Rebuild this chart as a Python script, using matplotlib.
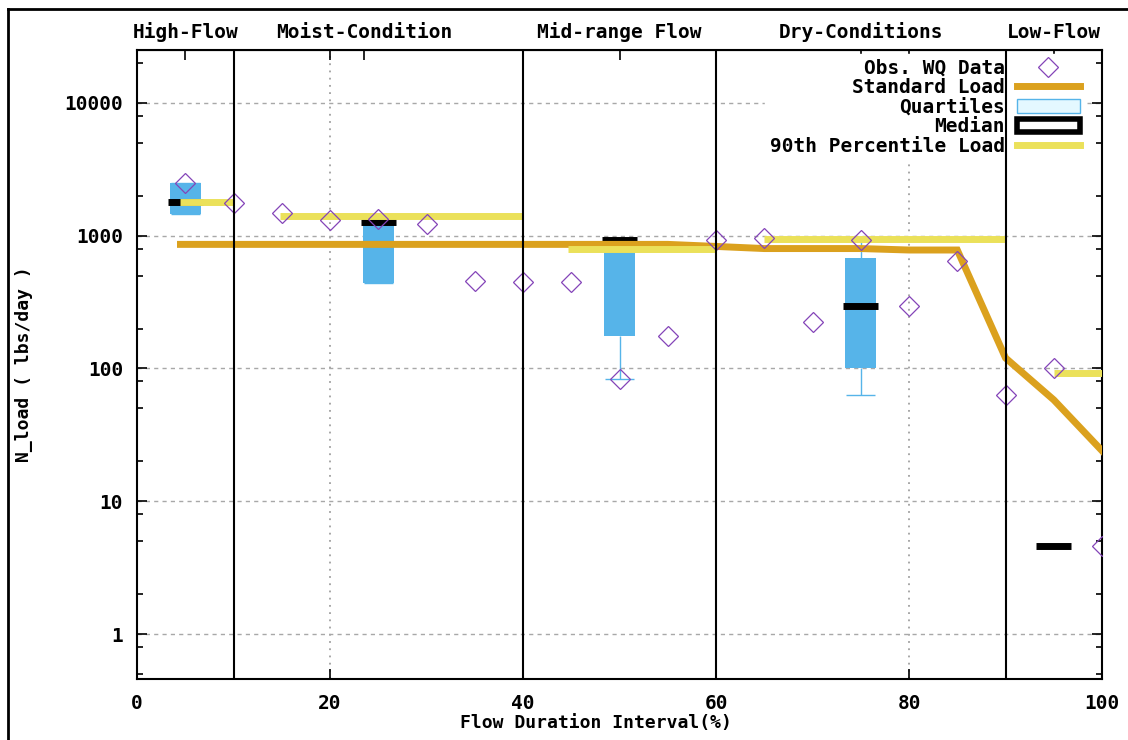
import matplotlib
matplotlib.use("Agg")
import matplotlib.pyplot as plt
from matplotlib.lines import Line2D
from matplotlib.patches import Patch
from matplotlib.ticker import FixedLocator, NullFormatter

plt.rcParams['font.family'] = ['DejaVu Sans Mono']
plt.rcParams['font.weight'] = 'bold'
plt.rcParams['axes.labelweight'] = 'bold'

# observed water quality data
obs_x = [5, 10, 15, 20, 25, 30, 35, 40, 45, 50, 55, 60, 65, 70, 75, 80, 85, 90, 95, 100]
obs_y = [2500, 1770, 1490, 1320, 1330, 1230, 458, 450, 450, 83, 177, 930, 965, 225, 930, 293, 640, 63, 100, 4.6]

# standard load curve
std_x = [4.5, 10, 15, 20, 25, 30, 35, 40, 45, 50, 55, 60, 65, 70, 75, 80, 85, 90, 95, 100]
std_y = [860, 860, 860, 860, 860, 860, 860, 860, 860, 860, 860, 830, 800, 800, 800, 780, 780, 120, 58, 24]

# 90th percentile load per flow regime
p90_start = [4.5, 14.8, 44.7, 65, 95]
p90_end = [10, 40, 60, 90, 100]
p90_load = [1800, 1410, 800, 950, 92]

# quartile boxes
box_x = [5, 25, 50, 75]
q1 = [1460, 444, 177, 100]
q3 = [2500, 1300, 940, 684]
whisk_lo = [1460, 444, 83, 63]
whisk_hi = [2500, 1300, 940, 930]

med_x = [5, 25, 50, 75, 95]
med_y = [1800, 1270, 930, 298, 4.6]

regions = ["High-Flow", "Moist-Condition", "Mid-range Flow", "Dry-Conditions", "Low-Flow"]
region_x = [5, 23.5, 50, 75, 95]
bounds = [10, 40, 60, 90]

c_obs = '#8444b8'
c_std = '#dba11e'
c_p90 = '#ebe15a'
c_box = '#56b4e9'

fs = 14

fig = plt.figure(figsize=(11.28, 7.40), dpi=100)
ax = fig.add_axes([0.1215, 0.0824, 0.8555, 0.85])
ax.set_yscale('log')
ax.set_xlim(0, 100)
ax.set_ylim(0.459, 25000)

ax.set_yticks([1, 10, 100, 1000, 10000])
ax.set_yticklabels(['1', '10', '100', '1000', '10000'])
ax.yaxis.set_minor_locator(FixedLocator([m * 10.0 ** e for e in range(-1, 5) for m in (2, 5, 8)]))
ax.yaxis.set_minor_formatter(NullFormatter())
ax.set_xticks([0, 20, 40, 60, 80, 100])

ax.tick_params(which='both', direction='in', top=True, right=True, labelsize=fs, width=1.2)
ax.tick_params(which='major', length=7)
ax.tick_params(which='minor', length=4)
ax.tick_params(axis='y', pad=10)
ax.tick_params(axis='x', pad=11)
for s in ax.spines.values():
    s.set_linewidth(1.5)

ax.yaxis.grid(True, which='major', ls=(0, (3, 3)), color='#a8a8a8', lw=1, zorder=0)
ax.xaxis.grid(True, which='major', ls=(0, (1, 3)), color='#a0a0a0', lw=1.3, zorder=0)
ax.set_axisbelow(True)

for b in bounds:
    ax.axvline(b, color='black', lw=1.5, zorder=6)

sec = ax.secondary_xaxis('top')
sec.set_xticks(region_x)
sec.set_xticklabels(regions)
sec.tick_params(direction='in', length=7, width=1.2, labelsize=fs, pad=6)

# boxes, whiskers, medians
ax.bar(box_x, [b - a for a, b in zip(q1, q3)], bottom=q1, width=3.2, color=c_box, zorder=2)
ax.vlines(box_x, whisk_lo, q1, color=c_box, lw=1, zorder=2)
ax.vlines(box_x, q3, whisk_hi, color=c_box, lw=1, zorder=2)
ax.hlines(whisk_lo, [x - 1.5 for x in box_x], [x + 1.5 for x in box_x], color=c_box, lw=1, zorder=2)
ax.hlines(whisk_hi, [x - 1.5 for x in box_x], [x + 1.5 for x in box_x], color=c_box, lw=1, zorder=2)
ax.hlines(med_y, [x - 1.8 for x in med_x], [x + 1.8 for x in med_x], color='black', lw=5, zorder=3)

ax.plot(std_x, std_y, color=c_std, lw=5, solid_joinstyle='miter', zorder=4)
ax.hlines(p90_load, p90_start, p90_end, color=c_p90, lw=5, zorder=4)
ax.plot(obs_x, obs_y, 'D', ms=10.5, mfc='none', mec=c_obs, mew=0.9, zorder=5)

ax.set_xlabel('Flow Duration Interval(%)', fontsize=13)
ax.xaxis.set_label_coords(0.476, -0.055)
ax.set_ylabel('N_load ( lbs/day )', fontsize=13)
ax.yaxis.set_label_coords(-0.108, 0.5)

handles = [
    Line2D([], [], marker='D', ms=10.5, mfc='none', mec=c_obs, mew=0.9, ls='none'),
    Line2D([], [], color=c_std, lw=5),
    Patch(facecolor='#e4f8ff', edgecolor=c_box, lw=1),
    Patch(facecolor='white', edgecolor='black', lw=4),
    Line2D([], [], color=c_p90, lw=5),
]
labels = ['Obs. WQ Data', 'Standard Load', 'Quartiles', 'Median', '90th Percentile Load']
leg = ax.legend(handles, labels, loc='upper right', bbox_to_anchor=(0.982, 0.994), markerfirst=False,
                fontsize=fs, handlelength=3.25, handletextpad=0.6, labelspacing=0.03,
                borderaxespad=0, frameon=True, fancybox=False, edgecolor='white',
                framealpha=1, borderpad=0.25)
for t in leg.get_texts():
    t.set_ha('right')
leg.set_zorder(5.5)

# outer frame of the picture
fig.add_artist(Line2D([0.007, 0.007], [0, 0.988], color='black', lw=2, transform=fig.transFigure))
fig.add_artist(Line2D([0.007, 1], [0.988, 0.988], color='black', lw=2, transform=fig.transFigure))

fig.savefig('out.png', dpi=100)
